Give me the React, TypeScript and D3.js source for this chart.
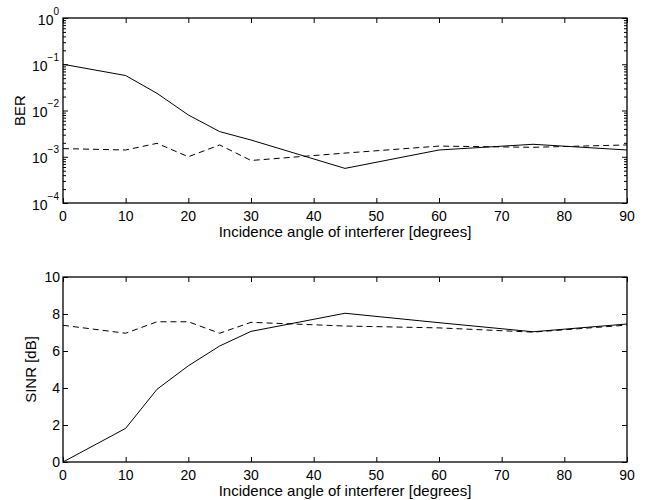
import React, { useRef, useEffect } from 'react';
import * as d3 from 'd3';

// incidence angles (degrees) where the curves were evaluated
const angles = [0, 10, 15, 20, 25, 30, 45, 60, 75, 90];

// BER, solid and dashed curves
const berSolid = [0.1, 0.057, 0.0235, 0.008, 0.0035, 0.0023, 0.00056, 0.0014, 0.00186, 0.0014];
const berDashed = [0.0015, 0.0014, 0.00195, 0.001, 0.0018, 0.00083, 0.0012, 0.0017, 0.0016, 0.0018];

// SINR [dB], solid and dashed curves
const sinrSolid = [0, 1.82, 3.93, 5.2, 6.27, 7.06, 8.04, 7.53, 7.04, 7.46];
const sinrDashed = [7.39, 6.96, 7.58, 7.58, 6.96, 7.55, 7.35, 7.25, 7.02, 7.4];

const xTicks = [0, 10, 20, 30, 40, 50, 60, 70, 80, 90];
const berExponents = [-4, -3, -2, -1, 0];
const sinrTicks = [0, 2, 4, 6, 8, 10];

const xLabel = 'Incidence angle of interferer [degrees]';
const FONT = 'Liberation Sans, Arial, Helvetica, sans-serif';

const App = () => {
  const svgRef = useRef<SVGSVGElement>(null);

  const width = 648;
  const height = 500;
  const left = 63;
  const right = 627;
  const innerWidth = right - left;
  const innerHeight = 185;

  useEffect(() => {
    const svg = d3.select(svgRef.current);
    svg.selectAll('*').remove();

    const x = d3.scaleLinear().domain([0, 90]).range([0, innerWidth]);

    // common x ticks + labels for a panel
    const panel = (top: number) => {
      const g = svg.append('g').attr('transform', `translate(${left},${top})`);

      // ticks pointing inward, bottom and top
      g.append('g')
        .attr('transform', `translate(0,${innerHeight})`)
        .call(d3.axisBottom(x).tickValues(xTicks).tickSizeInner(-5).tickSizeOuter(0).tickFormat(() => ''))
        .call(a => a.select('.domain').remove());
      g.append('g')
        .call(d3.axisTop(x).tickValues(xTicks).tickSizeInner(-5).tickSizeOuter(0).tickFormat(() => ''))
        .call(a => a.select('.domain').remove());

      g.selectAll('.xlab')
        .data(xTicks)
        .join('text')
        .attr('x', d => x(d))
        .attr('y', innerHeight + 18)
        .attr('text-anchor', 'middle')
        .attr('font-size', 14)
        .text(d => d);

      g.append('text')
        .attr('x', innerWidth / 2)
        .attr('y', innerHeight + 34)
        .attr('text-anchor', 'middle')
        .attr('font-size', 15)
        .text(xLabel);

      return g;
    };

    const drawLines = (g: any, y: any, solid: number[], dashed: number[]) => {
      const line = d3.line<number>()
        .x((_, i) => x(angles[i]))
        .y(d => y(d));
      g.append('path')
        .attr('d', line(solid))
        .attr('fill', 'none')
        .attr('stroke', '#000')
        .attr('stroke-width', 1);
      g.append('path')
        .attr('d', line(dashed))
        .attr('fill', 'none')
        .attr('stroke', '#000')
        .attr('stroke-width', 1)
        .attr('stroke-dasharray', '6,4');
    };

    const frame = (g: any) => {
      g.append('rect')
        .attr('width', innerWidth)
        .attr('height', innerHeight)
        .attr('fill', 'none')
        .attr('stroke', '#000')
        .attr('stroke-width', 1.3);
    };

    // ---- top panel: BER (log) ----
    const g1 = panel(18);
    const yBer = d3.scaleLog().domain([1e-4, 1]).range([innerHeight, 0]);
    const majors = berExponents.map(e => Math.pow(10, e));
    const minors: number[] = [];
    berExponents.slice(0, -1).forEach(e => {
      for (let k = 2; k <= 9; k++) minors.push(k * Math.pow(10, e));
    });

    g1.append('g')
      .call(d3.axisLeft(yBer).tickValues(majors).tickSizeInner(-5).tickSizeOuter(0).tickFormat(() => ''))
      .call(a => a.select('.domain').remove());
    g1.append('g')
      .call(d3.axisLeft(yBer).tickValues(minors).tickSizeInner(-3).tickSizeOuter(0).tickFormat(() => ''))
      .call(a => a.select('.domain').remove());
    g1.append('g')
      .attr('transform', `translate(${innerWidth},0)`)
      .call(d3.axisRight(yBer).tickValues(majors).tickSizeInner(-5).tickSizeOuter(0).tickFormat(() => ''))
      .call(a => a.select('.domain').remove());
    g1.append('g')
      .attr('transform', `translate(${innerWidth},0)`)
      .call(d3.axisRight(yBer).tickValues(minors).tickSizeInner(-3).tickSizeOuter(0).tickFormat(() => ''))
      .call(a => a.select('.domain').remove());

    const lab = g1.selectAll('.ylab')
      .data(berExponents)
      .join('text')
      .attr('x', -4)
      .attr('y', d => yBer(Math.pow(10, d)) + 6.5)
      .attr('text-anchor', 'end')
      .attr('font-size', 14);
    lab.append('tspan').text('10');
    lab.append('tspan')
      .attr('dy', -10)
      .attr('font-size', 10)
      .text(d => (d < 0 ? '\u2212' + Math.abs(d) : String(d)));

    g1.append('text')
      .attr('transform', `translate(${20 - left},${innerHeight / 2}) rotate(-90)`)
      .attr('text-anchor', 'middle')
      .attr('dy', '0.35em')
      .attr('font-size', 15)
      .text('BER');

    drawLines(g1, yBer, berSolid, berDashed);
    frame(g1);

    // ---- bottom panel: SINR ----
    const g2 = panel(277);
    const ySinr = d3.scaleLinear().domain([0, 10]).range([innerHeight, 0]);

    g2.append('g')
      .call(d3.axisLeft(ySinr).tickValues(sinrTicks).tickSizeInner(-5).tickSizeOuter(0).tickPadding(3))
      .call(a => a.select('.domain').remove())
      .call(a => a.selectAll('text').attr('font-size', 14).attr('font-family', FONT).attr('fill', '#000'));
    g2.append('g')
      .attr('transform', `translate(${innerWidth},0)`)
      .call(d3.axisRight(ySinr).tickValues(sinrTicks).tickSizeInner(-5).tickSizeOuter(0).tickFormat(() => ''))
      .call(a => a.select('.domain').remove());

    g2.append('text')
      .attr('transform', `translate(${31 - left},${innerHeight / 2}) rotate(-90)`)
      .attr('text-anchor', 'middle')
      .attr('dy', '0.35em')
      .attr('font-size', 15)
      .text('SINR [dB]');

    drawLines(g2, ySinr, sinrSolid, sinrDashed);
    frame(g2);

    svg.selectAll('text').attr('font-family', FONT).attr('fill', '#000');
    svg.selectAll('.tick line').attr('stroke', '#000');
  }, []);

  return (
    <svg
      ref={svgRef}
      width={width}
      height={height}
      style={{ position: 'absolute', left: 0, top: 0, background: '#fff' }}
    />
  );
};

export default App;
